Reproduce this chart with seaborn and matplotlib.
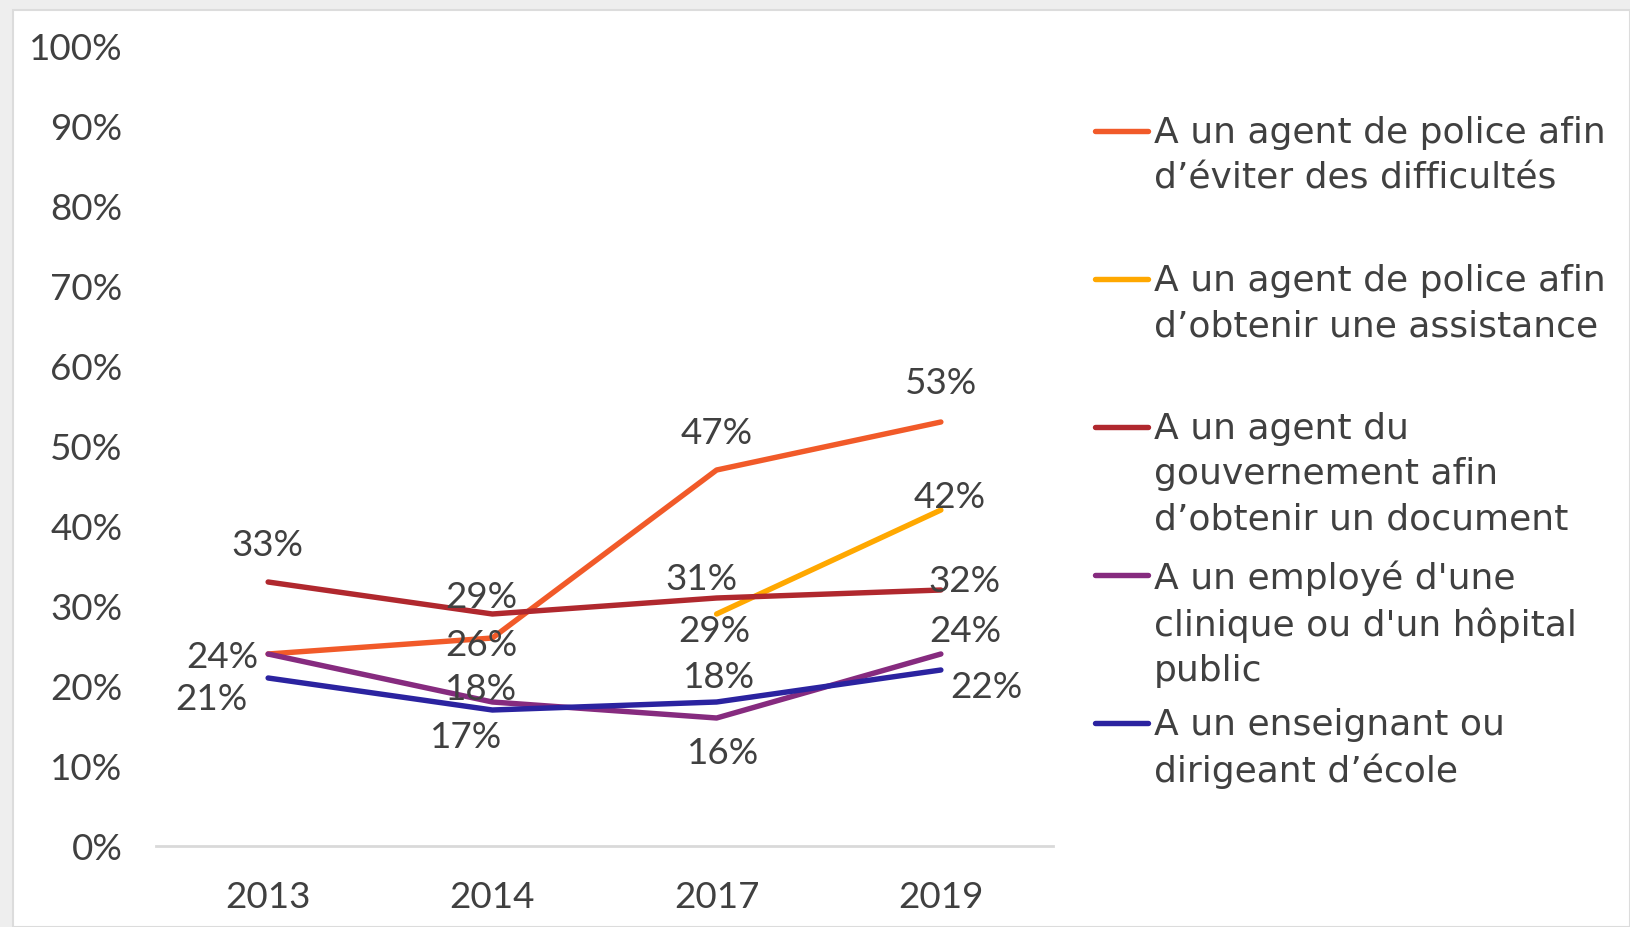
import matplotlib
matplotlib.use("Agg")
import matplotlib.pyplot as plt
import seaborn as sns
import pandas as pd
import numpy as np
from matplotlib.patches import Rectangle
from matplotlib.lines import Line2D

# ---- data ----
years = ["2013", "2014", "2017", "2019"]
series_names = [
    "A un agent de police afin\nd\u2019\u00e9viter des difficult\u00e9s",
    "A un agent de police afin\nd\u2019obtenir une assistance",
    "A un agent du\ngouvernement afin\nd\u2019obtenir un document",
    "A un employ\u00e9 d'une\nclinique ou d'un h\u00f4pital\npublic",
    "A un enseignant ou\ndirigeant d\u2019\u00e9cole",
]
police_eviter = [24, 26, 47, 53]
police_assistance = [np.nan, np.nan, 29, 42]
gouvernement = [33, 29, 31, 32]
clinique = [24, 18, 16, 24]
enseignant = [21, 17, 18, 22]
yticks = [0, 10, 20, 30, 40, 50, 60, 70, 80, 90, 100]

values = [police_eviter, police_assistance, gouvernement, clinique, enseignant]
colors = ["#F15A29", "#FFA800", "#B0282E", "#862B7F", "#2B23A0"]

# label offsets in pixels (dx, dy) per series/point
offsets = [
    [(-46, -4), (-11, -8), (0, 37), (0, 39)],
    [None, None, (-2, -18), (9, 13)],
    [(-1, 36), (-11, 16), (-15, 18), (24, 9)],
    [None, (-11, 13), (6, -35), (24, 23)],
    [(-57, -22), (-26, -27), (2, 25), (46, -17)],
]

rows = []
for name, vals in zip(series_names, values):
    for y, v in zip(years, vals):
        rows.append({"Année": y, "Série": name, "Valeur": v})
df = pd.DataFrame(rows)

sns.set_theme(style="white")
plt.rcParams["font.family"] = ["Lato", "DejaVu Sans"]
TXT = "#404040"
FS = 26.5

W, H = 1630, 927
fig = plt.figure(figsize=(W / 100, H / 100), dpi=100)
fig.patch.set_facecolor("#EEEEEE")
fig.add_artist(Rectangle((13 / W, 0), 1 - 13 / W, 1 - 10 / H, transform=fig.transFigure,
                         facecolor="white", edgecolor="#DCDCDC", linewidth=1.5, zorder=0))

ax = fig.add_axes([156 / W, 1 - 846 / H, (1053 - 156) / W, (846 - 46) / H])
ax.set_facecolor("none")

sns.lineplot(data=df.dropna(), x="Année", y="Valeur", hue="Série", hue_order=series_names,
             palette=colors, linewidth=3.9, errorbar=None, legend=False, ax=ax, sort=False)
for ln in ax.lines:
    ln.set_solid_capstyle("round")
    ln.set_solid_joinstyle("round")

ax.set_xlim(-0.5, 3.5)
ax.set_ylim(0, 100)
ax.set_yticks(yticks)
ax.set_yticklabels([f"{t}%" for t in yticks])
ax.set_xticks(range(len(years)))
ax.set_xticklabels(years)
ax.tick_params(axis="y", length=0, pad=24, labelsize=FS, labelcolor=TXT)
ax.tick_params(axis="x", length=0, pad=25, labelsize=FS, labelcolor=TXT)
ax.set_xlabel("")
ax.set_ylabel("")
for s in ["top", "right", "left"]:
    ax.spines[s].set_visible(False)
ax.spines["bottom"].set_color("#D9D9D9")
ax.spines["bottom"].set_linewidth(2)

# data labels
for vals, offs in zip(values, offsets):
    for i, (v, o) in enumerate(zip(vals, offs)):
        if o is None or np.isnan(v):
            continue
        ax.annotate(f"{int(v)}%", xy=(i, v), xytext=o, textcoords="offset pixels",
                    ha="center", va="center", fontsize=FS, color=TXT, zorder=5)

# legend (manual)
first_line_y = [131, 279, 427, 575, 723]
for name, col, yy in zip(series_names, colors, first_line_y):
    fig.add_artist(Line2D([1095 / W, 1148 / W], [1 - yy / H, 1 - yy / H], transform=fig.transFigure,
                          color=col, linewidth=3.9, solid_capstyle="round"))
    fig.text(1154 / W, 1 - (yy - 15) / H, name, ha="left", va="top", fontsize=26, color=TXT,
             linespacing=1.42, family=["DejaVu Sans"])

fig.savefig("out.png", dpi=100, facecolor=fig.get_facecolor())
